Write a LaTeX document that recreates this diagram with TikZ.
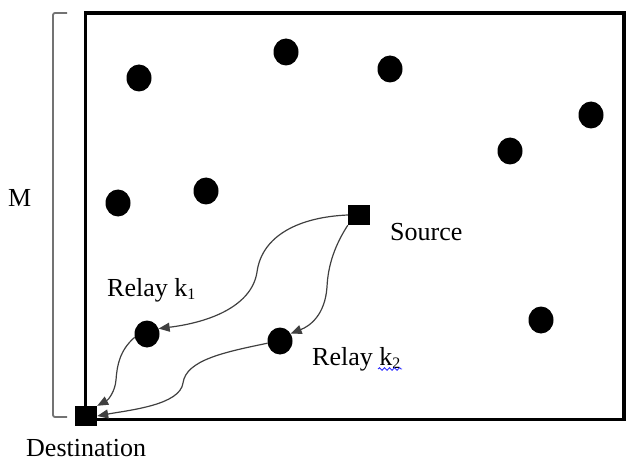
\documentclass[tikz,border=0pt]{standalone}
\usepackage{fontspec}
\setmainfont{Liberation Serif}
\usetikzlibrary{arrows.meta,shapes.geometric,decorations.pathmorphing}

\tikzset{
  terminal/.style={draw=none,fill=black,minimum width=22pt,minimum height=20pt,inner sep=0pt,rectangle},
  station/.style={draw=none,fill=black,ellipse,minimum width=25pt,minimum height=27pt,inner sep=0pt},
  link/.style={draw=black!75,line width=1.2pt,-{Triangle[length=11pt,width=9pt]}},
  lbl/.style={font=\fontsize{26}{30}\selectfont,inner sep=0pt,anchor=base west},
}
\newcommand{\smallsub}[1]{\raisebox{-3pt}{\fontsize{16}{16}\selectfont #1}}

\begin{document}
\begin{tikzpicture}[x=1pt,y=-1pt]
  \useasboundingbox (0,0) rectangle (628,462);

  % side length bracket
  \draw[black!55,line width=1.8pt,rounded corners=2pt] (67,13) -- (53,13) -- (53,417) -- (67,417);
  \node[lbl] (mlabel) at (8,207) {M};

  % deployment area
  \draw[line width=3.5pt] (85.5,13) rectangle (624,419.5);

  % idle stations
  \node[station] (n1) at (139,78) {};
  \node[station] (n2) at (286,52) {};
  \node[station] (n3) at (390,69) {};
  \node[station] (n4) at (591,115) {};
  \node[station] (n5) at (510,151) {};
  \node[station] (n6) at (118,203) {};
  \node[station] (n7) at (206,191) {};
  \node[station] (n8) at (541,320) {};

  % relays, source and destination
  \node[station] (k1) at (147,334) {};
  \node[station] (k2) at (280,341) {};
  \node[terminal] (src) at (359,215) {};
  \node[terminal] (dst) at (86,416) {};

  \node[lbl] (srclabel) at (390,240) {Source};
  \node[lbl] (k1label) at (107,296) {Relay k\smallsub{1}};
  \node[lbl] (k2label) at (312,365) {Relay k\smallsub{2}};
  \node[lbl] (dstlabel) at (26,456) {Destination};

  % spelling squiggle under k2
  \coordinate (sqa) at (378,369);
  \coordinate (sqb) at (402,369);
  \draw[blue!80,line width=0.9pt,decorate,decoration={snake,amplitude=1.3pt,segment length=5pt}] (sqa) -- (sqb);

  % relayed paths
  \draw[link] (src.west) .. controls (300,217) and (262,235) .. (257,272)
                         .. controls (252,305) and (212,322) .. (k1.25);
  \draw[link] (src.south west) .. controls (335,245) and (328,265) .. (327,287)
                               .. controls (325,315) and (310,326) .. (k2.35);
  \draw[link] (k1.195) .. controls (120,350) and (117,365) .. (116,380)
                       .. controls (115,392) and (108,400) .. (dst.north east);
  \draw[link] (k2.190) .. controls (225,352) and (186,360) .. (183,383)
                       .. controls (180,405) and (130,410) .. (dst.east);
\end{tikzpicture}
\end{document}
